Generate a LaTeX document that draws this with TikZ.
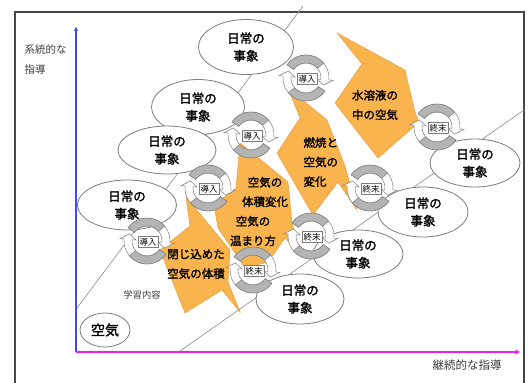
\documentclass[tikz,border=0pt]{standalone}
\usepackage{fontspec}
\usetikzlibrary{arrows.meta,shapes.geometric}
\newfontfamily\jp{Noto Sans CJK JP}
\newfontfamily\jpb[FakeBold=1.6]{Noto Sans CJK JP}
\definecolor{orng}{RGB}{249,180,78}
\definecolor{orngline}{RGB}{228,150,55}
\definecolor{cycgray}{RGB}{180,180,180}
\definecolor{lgray}{RGB}{125,125,125}
\definecolor{bandgray}{RGB}{150,150,150}
\definecolor{framegray}{RGB}{70,70,70}
\definecolor{axblue}{RGB}{70,70,235}
\definecolor{axmag}{RGB}{235,30,235}
\definecolor{txtgray}{RGB}{60,60,60}
\tikzset{
  event/.style={ellipse, draw=lgray, fill=white, line width=0.8pt, inner sep=0pt,
    align=center, font=\jpb\fontsize{12.5}{17.5}\selectfont},
  unitshape/.style={fill=orng, draw=orngline, line width=0.4pt},
  unittext/.style={align=center, font=\jpb\fontsize{11.5}{19.5}\selectfont},
  tagbox/.style={draw=lgray, fill=white, line width=0.6pt, inner sep=1.3pt,
    font=\jp\fontsize{8.5}{9}\selectfont},
  cycwhite/.style={fill=white, draw=lgray, line width=0.5pt},
  cycdark/.style={fill=cycgray, draw=lgray, line width=0.5pt},
  bandline/.style={draw=bandgray, line width=0.7pt},
  frameline/.style={draw=framegray, line width=1.5pt},
}
\newcommand{\cycmotif}[4]{%
  \begin{scope}[shift={(#1,#2)}]
    \path[cycwhite] (215:23) arc[start angle=215,end angle=365,radius=23]
      -- (365:27) -- (382:19) -- (365:11) -- (365:15)
      arc[start angle=365,end angle=215,radius=15] -- cycle;
    \path[cycdark] (215:23) arc[start angle=215,end angle=320,radius=23]
      -- (320:15) arc[start angle=320,end angle=215,radius=15] -- cycle;
    \path[cycwhite] (35:23) arc[start angle=35,end angle=185,radius=23]
      -- (185:27) -- (202:19) -- (185:11) -- (185:15)
      arc[start angle=185,end angle=35,radius=15] -- cycle;
    \path[cycdark] (35:23) arc[start angle=35,end angle=140,radius=23]
      -- (140:15) arc[start angle=140,end angle=35,radius=15] -- cycle;
    \node[tagbox] (#3) at (1,1) {#4};
  \end{scope}}
\begin{document}
\begin{tikzpicture}[x=1pt,y=1pt,yscale=-1]
\useasboundingbox (0,0) rectangle (531,383);
\fill[white] (0,0) rectangle (531,383);
% frame
\draw[frameline] (15,384) -- (15,12) -- (524,12) -- (524,384);
% band of learning contents
\coordinate (b1s) at (77,308);
\coordinate (b1e) at (303,6);
\coordinate (b2s) at (180,351);
\coordinate (b2e) at (524,110);
\draw[bandline] (b1s) -- (b1e);
\draw[bandline] (b2s) -- (b2e);
% axes
\coordinate (O) at (76,352);
\coordinate (Ytop) at (76,27);
\coordinate (Xend) at (520,352);
\draw[axblue, line width=1.6pt, -{Stealth[length=4pt,width=4pt]}] (O) -- (Ytop);
\draw[axmag, line width=1.6pt, -{Stealth[length=5pt,width=5pt]}] (O) -- (Xend);
\node[anchor=west, align=left, text=txtgray, font=\jp\fontsize{10.5}{20}\selectfont] (ylab) at (21,59) {系統的な\\指導};
\node[text=txtgray, font=\jp\fontsize{11.5}{12}\selectfont] (xlab) at (467,365) {継続的な指導};
\node[text=txtgray, font=\jp\fontsize{9.3}{10}\selectfont] (content) at (142,295) {学習内容};
\node[ellipse, draw=lgray, fill=white, line width=0.8pt, minimum width=50pt, minimum height=34pt, inner sep=0pt, font=\jpb\fontsize{14}{15}\selectfont] (air) at (105,330) {空気};
% everyday events
\node[event, minimum width=95pt, minimum height=55pt] (e1) at (246,47) {日常の\\事象};
\node[event, minimum width=93pt, minimum height=55pt] (e2) at (198,107) {日常の\\事象};
\node[event, minimum width=98pt, minimum height=48pt] (e3) at (167,150) {日常の\\事象};
\node[event, minimum width=99pt, minimum height=50pt] (e4) at (127,205) {日常の\\事象};
\node[event, minimum width=90pt, minimum height=48pt] (e5) at (475,163) {日常の\\事象};
\node[event, minimum width=90pt, minimum height=50pt] (e6) at (423,212) {日常の\\事象};
\node[event, minimum width=90pt, minimum height=48pt] (e7) at (358,254) {日常の\\事象};
\node[event, minimum width=88pt, minimum height=50pt] (e8) at (300,299) {日常の\\事象};
% learning units (orange)
\path[unitshape] (337,33) -- (405,70) -- (415,112) -- (428,145) -- (417,124) -- (378,158) -- (335,103) -- (362,64) -- cycle;
\path[unitshape] (288,88) -- (327,120) -- (345,166) -- (357,210) -- (338,182) -- (313,215) -- (277,153) -- (300,118) -- cycle;
\path[unitshape] (240,143) -- (288,182) -- (292,222) -- (300,255) -- (285,238) -- (268,262) -- (245,268) -- (218,228) -- (214,205) -- (236,188) -- cycle;
\path[unitshape] (186,197) -- (230,250) -- (228,282) -- (240,312) -- (222,290) -- (185,313) -- (160,250) -- (190,226) -- cycle;
% cycles
\cycmotif{306}{78}{in1}{導入}
\cycmotif{251}{135}{in2}{導入}
\cycmotif{208}{188}{in3}{導入}
\cycmotif{147}{241}{in4}{導入}
\cycmotif{437}{127}{out1}{終末}
\cycmotif{370}{188}{out2}{終末}
\cycmotif{311}{236}{out3}{終末}
\cycmotif{253}{270}{out4}{終末}
% unit texts
\node[unittext] (uD) at (375,105) {\fontsize{11.5}{16}\selectfont 水溶液の\\中の空気};
\node[unittext, anchor=west, align=left] (uC) at (300,162) {\fontsize{11.5}{18.5}\selectfont 燃焼と\\空気の\\変化};
\node[unittext] (uB1) at (265,192) {空気の\\体積変化};
\node[unittext] (uB2) at (253,231) {空気の\\温まり方};
\node[unittext] (uA) at (196,264) {\fontsize{11.5}{16.5}\selectfont 閉じ込めた\\空気の体積};
\end{tikzpicture}
\end{document}
